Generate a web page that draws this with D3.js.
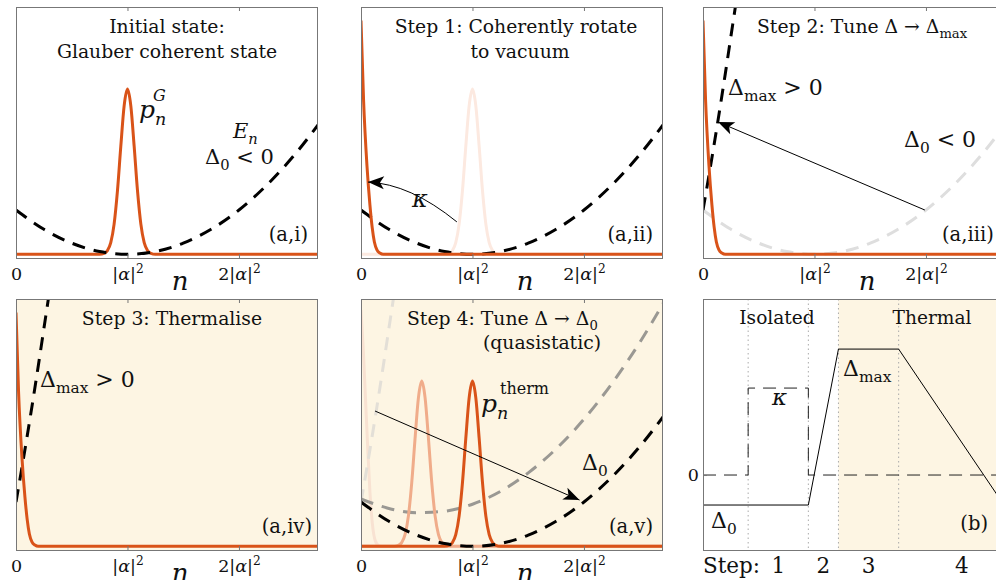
<!DOCTYPE html>
<html lang="en">
<head>
<meta charset="utf-8">
<title>Thermalisation protocol</title>
<script src="https://cdn.jsdelivr.net/npm/d3@7"></script>
<style>
  body { margin: 0; background: #fff; }
  svg { display: block; }
  text { font-family: "DejaVu Serif", serif; fill: #111; }
  .box { fill: none; stroke: #777; stroke-width: 1px; shape-rendering: crispEdges; }
  .tick line { stroke: #777; }
</style>
</head>
<body>
<script>
  // photon number axis
  var nTicks = [0, 1, 2];
  var nTickLabels = ["0", "|α|²", "2|α|²"];

  // coherent state distribution p_n^G, peaked at |alpha|^2
  var coherentN = [0, 0.75, 0.79, 0.82, 0.85, 0.88, 0.91, 0.94, 0.97, 1.00, 1.03, 1.06, 1.09, 1.12, 1.15, 1.18, 1.21, 1.25, 2.7];
  var coherentP = [0, 0, 0.004, 0.015, 0.047, 0.122, 0.256, 0.436, 0.600, 0.668, 0.600, 0.436, 0.256, 0.122, 0.047, 0.015, 0.004, 0, 0];

  // intermediate distribution during the quasistatic sweep
  var midN = [0, 0.30, 0.335, 0.365, 0.395, 0.425, 0.455, 0.485, 0.515, 0.545, 0.575, 0.605, 0.635, 0.665, 0.695, 0.725, 0.755, 0.795, 2.7];
  var midP = [0, 0, 0.004, 0.015, 0.047, 0.122, 0.256, 0.436, 0.600, 0.668, 0.600, 0.436, 0.256, 0.122, 0.047, 0.015, 0.004, 0, 0];

  // vacuum-like distribution
  var vacN = [0, 0.023, 0.054, 0.08, 0.10, 0.12, 0.143, 0.17, 0.2, 2.7];
  var vacP = [0.945, 0.624, 0.355, 0.20, 0.11, 0.05, 0.018, 0.005, 0, 0];

  // faint early thermal distribution (panel v)
  var earlyN = [0, 0.02, 0.04, 0.06, 0.08, 0.10, 0.13, 0.16, 0.2, 2.7];
  var earlyP = [0.955, 0.80, 0.60, 0.40, 0.22, 0.10, 0.02, 0.003, 0, 0];

  // energies E_n
  var energyN = [0, 0.25, 0.5, 0.75, 1.0, 1.25, 1.5, 1.75, 2.0, 2.25, 2.5, 2.75];
  var energyD0 = [0.179, 0.101, 0.045, 0.011, 0, 0.011, 0.045, 0.101, 0.179, 0.280, 0.403, 0.548];
  var energyMid = [0.192, 0.153, 0.136, 0.142, 0.170, 0.222, 0.297, 0.394, 0.514, 0.658, 0.824, 1.013];
  var steepN = [0, 0.05, 0.10, 0.15, 0.20, 0.25, 0.30, 0.35];
  var energyMax = [0.179, 0.31, 0.445, 0.585, 0.73, 0.88, 1.03, 1.19];

  // arrows (n, value)
  var kappaArrow = [[0.86, 0.131], [0.44, 0.285], [0.063, 0.292]];
  var tuneUpArrow = [[1.99, 0.179], [0.135, 0.535]];
  var tuneDownArrow = [[0.126, 0.547], [1.96, 0.187]];

  // protocol panel (b)
  var protoT = [0, 1.75, 2.25, 3.25, 5];
  var protoDelta = [-1, -1, 4.2, 4.2, -1];
  var kappaT = [0, 0.75, 0.75, 1.75, 1.75, 5];
  var kappaV = [0, 0, 2.9, 2.9, 0, 0];
  var stepBounds = [0.75, 1.75, 2.25, 3.25];
  var stepNames = ["1", "2", "3", "4"];
  var stepCentres = [1.25, 2.0, 2.75, 4.3];

  var orange = "#D95319", beige = "#FDF5E3";
  var W = 301, H = 251;

  var svg = d3.select("body").append("svg")
    .attr("width", 996).attr("height", 580);
  svg.append("rect").attr("width", 996).attr("height", 580).attr("fill", "#fff");

  var defs = svg.append("defs");
  defs.append("marker")
    .attr("id", "head")
    .attr("viewBox", "-17 -8 19 16")
    .attr("refX", 0).attr("refY", 0)
    .attr("markerWidth", 19).attr("markerHeight", 16)
    .attr("markerUnits", "userSpaceOnUse")
    .attr("orient", "auto")
    .append("path")
    .attr("d", "M0,0 L-16,-6.5 L-12,0 L-16,6.5 Z")
    .attr("fill", "#000");

  var x = d3.scaleLinear().domain([0, 2.7]).range([0, W]);
  var y = d3.scaleLinear().domain([-0.015, 1]).range([H, 0]);

  function series(ns, vs) {
    return ns.map(function(n, i) { return [n, vs[i]]; });
  }

  var line = d3.line()
    .x(function(d) { return x(d[0]); })
    .y(function(d) { return y(d[1]); })
    .curve(d3.curveMonotoneX);

  // rich text with sub/superscripts
  function rich(sel, parts, size) {
    var shift = 0;
    parts.forEach(function(p) {
      var s = p.sub ? 0.28 : p.sup ? -0.42 : 0;
      var fs = (p.sub || p.sup) ? size * 0.7 : size;
      var ts = sel.append("tspan")
        .attr("dx", p.dx || 0)
        .style("font-size", fs + "px")
        .style("font-style", p.i ? "italic" : "normal")
        .text(p.t);
      if (s - shift !== 0) ts.attr("dy", (s - shift) * size);
      shift = s;
    });
    return sel;
  }

  function label(g, px, py, parts, size, anchor) {
    var t = g.append("text")
      .attr("x", px).attr("y", py)
      .attr("text-anchor", anchor || "start")
      .style("font-size", size + "px");
    return rich(t, parts, size);
  }

  var panelId = 0;
  function panel(px, py, shaded) {
    var g = svg.append("g").attr("transform", "translate(" + px + "," + py + ")");
    var id = "clip" + (panelId++);
    defs.append("clipPath").attr("id", id)
      .append("rect").attr("width", W).attr("height", H);
    if (shaded) {
      g.append("rect").attr("width", W).attr("height", H).attr("fill", beige);
    }
    var plot = g.append("g").attr("clip-path", "url(#" + id + ")");
    return { g: g, plot: plot };
  }

  function nAxis(p) {
    var ax = p.g.append("g")
      .attr("transform", "translate(0," + H + ")")
      .call(d3.axisBottom(x).tickValues(nTicks)
        .tickSizeInner(-4).tickSizeOuter(0).tickPadding(10)
        .tickFormat(function(d, i) { return nTickLabels[i]; }));
    ax.select(".domain").remove();
    ax.selectAll(".tick text")
      .style("font-size", "17.5px")
      .attr("fill", "#111")
      .each(function(d, i) {
        var t = d3.select(this).text("");
        if (i === 0) { t.text("0"); return; }
        rich(t, [
          { t: i === 2 ? "2|" : "|" },
          { t: "α", i: true },
          { t: "|" },
          { t: "2", sup: true }
        ], 17.5);
      });
    p.g.append("g")
      .call(d3.axisTop(x).tickValues(nTicks).tickSizeInner(-4).tickSizeOuter(0).tickFormat(""))
      .select(".domain").remove();
    p.g.append("text")
      .attr("x", 164).attr("y", H + 32)
      .attr("text-anchor", "middle")
      .style("font-size", "26px").style("font-style", "italic")
      .text("n");
  }

  function box(p) {
    p.g.append("rect").attr("class", "box")
      .attr("x", 0.5).attr("y", 0.5).attr("width", W).attr("height", H);
  }

  function curve(p, data, color, width, dash) {
    var path = p.plot.append("path")
      .datum(data)
      .attr("d", line)
      .attr("fill", "none")
      .attr("stroke", color)
      .attr("stroke-width", width)
      .attr("stroke-linejoin", "round");
    if (dash) path.attr("stroke-dasharray", dash);
    return path;
  }

  function arrow(p, pts, curved) {
    var path = d3.path();
    path.moveTo(x(pts[0][0]), y(pts[0][1]));
    if (curved) {
      path.quadraticCurveTo(x(pts[1][0]), y(pts[1][1]), x(pts[2][0]), y(pts[2][1]));
    } else {
      path.lineTo(x(pts[1][0]), y(pts[1][1]));
    }
    p.plot.append("path")
      .attr("d", path.toString())
      .attr("fill", "none")
      .attr("stroke", "#000")
      .attr("stroke-width", 1)
      .attr("marker-end", "url(#head)");
  }

  var DASH = "13,9";

  // (a,i) initial state
  var p1 = panel(16, 7, false);
  curve(p1, series(coherentN, coherentP), orange, 3);
  curve(p1, series(energyN, energyD0), "#000", 3, DASH);
  nAxis(p1); box(p1);
  label(p1.g, 151, 26, [{ t: "Initial state:" }], 18.8, "middle");
  label(p1.g, 151, 51, [{ t: "Glauber coherent state" }], 18.8, "middle");
  label(p1.g, 123, 111, [{ t: "p", i: true }, { t: "n", i: true, sub: true }], 25);
  label(p1.g, 137, 94, [{ t: "G", i: true }], 16);
  label(p1.g, 217, 131, [{ t: "E", i: true }, { t: "n", i: true, sub: true }], 21);
  label(p1.g, 189, 157, [{ t: "Δ" }, { t: "0", sub: true }, { t: " < 0" }], 21);
  label(p1.g, 292, 234, [{ t: "(a,i)" }], 19.5, "end");

  // (a,ii) rotate to vacuum
  var p2 = panel(361, 7, false);
  curve(p2, series(coherentN, coherentP), "#FCE9E0", 3);
  curve(p2, series(energyN, energyD0), "#000", 3, DASH);
  curve(p2, series(vacN, vacP), orange, 3);
  arrow(p2, kappaArrow, true);
  nAxis(p2); box(p2);
  label(p2.g, 155, 26, [{ t: "Step 1: Coherently rotate" }], 18.8, "middle");
  label(p2.g, 159, 51, [{ t: "to vacuum" }], 18.8, "middle");
  label(p2.g, 51, 200, [{ t: "κ", i: true }], 24);
  label(p2.g, 292, 234, [{ t: "(a,ii)" }], 19.5, "end");

  // (a,iii) tune detuning up
  var p3 = panel(703, 7, false);
  curve(p3, series(energyN, energyD0), "#DEDEDE", 3, DASH);
  curve(p3, series(steepN, energyMax), "#000", 3, DASH);
  curve(p3, series(vacN, vacP), orange, 3);
  arrow(p3, tuneUpArrow, false);
  nAxis(p3); box(p3);
  label(p3.g, 54, 26, [{ t: "Step 2: Tune Δ → Δ" }, { t: "max", sub: true }], 18.8);
  label(p3.g, 25, 88, [{ t: "Δ" }, { t: "max", sub: true }, { t: " > 0" }], 22);
  label(p3.g, 201, 140, [{ t: "Δ" }, { t: "0", sub: true }, { t: " < 0" }], 22);
  label(p3.g, 239, 234, [{ t: "(a,iii)" }], 19.5);

  // (a,iv) thermalise
  var p4 = panel(16, 299, true);
  curve(p4, series(steepN, energyMax), "#000", 3, DASH);
  curve(p4, series(vacN, vacP), orange, 3);
  nAxis(p4); box(p4);
  label(p4.g, 156, 26, [{ t: "Step 3: Thermalise" }], 18.8, "middle");
  label(p4.g, 24, 88, [{ t: "Δ" }, { t: "max", sub: true }, { t: " > 0" }], 22);
  label(p4.g, 296, 234, [{ t: "(a,iv)" }], 19.5, "end");

  // (a,v) quasistatic sweep back
  var p5 = panel(361, 299, true);
  curve(p5, series(earlyN, earlyP), "#F8E2D2", 3);
  curve(p5, series(steepN, energyMax), "#E3DFD7", 3, DASH);
  curve(p5, series(energyN, energyMid), "#9A9893", 3, DASH);
  curve(p5, series(midN, midP), "#F0AC8A", 3);
  curve(p5, series(coherentN, coherentP), orange, 3);
  curve(p5, series(energyN, energyD0), "#000", 3, DASH);
  arrow(p5, tuneDownArrow, false);
  nAxis(p5); box(p5);
  label(p5.g, 46, 26, [{ t: "Step 4: Tune Δ → Δ" }, { t: "0", sub: true }], 18.8);
  label(p5.g, 181, 50, [{ t: "(quasistatic)" }], 18.8, "middle");
  label(p5.g, 120, 113, [{ t: "p", i: true }, { t: "n", i: true, sub: true }], 25);
  label(p5.g, 139, 95, [{ t: "therm" }], 16);
  label(p5.g, 221, 171, [{ t: "Δ" }, { t: "0", sub: true }], 22);
  label(p5.g, 292, 234, [{ t: "(a,v)" }], 19.5, "end");

  // (b) protocol
  var tx = d3.scaleLinear().domain([0, 5]).range([0, W]);
  var ty = d3.scaleLinear().domain([-2.5, 5.87]).range([H, 0]);
  var p6 = panel(703, 299, false);
  p6.plot.append("rect")
    .attr("x", tx(stepBounds[2])).attr("width", W - tx(stepBounds[2]))
    .attr("height", H).attr("fill", beige);
  p6.plot.selectAll(".bound").data(stepBounds).enter().append("line")
    .attr("x1", tx).attr("x2", tx).attr("y1", 0).attr("y2", H)
    .attr("stroke", "#AAA").attr("stroke-width", 1).attr("stroke-dasharray", "1.5,3");
  var tline = d3.line().x(function(d) { return tx(d[0]); }).y(function(d) { return ty(d[1]); });
  p6.plot.append("path").datum(series(kappaT, kappaV)).attr("d", tline)
    .attr("fill", "none").attr("stroke", "#222").attr("stroke-width", 1).attr("stroke-dasharray", "13,8");
  p6.plot.append("path").datum(series(protoT, protoDelta)).attr("d", tline)
    .attr("fill", "none").attr("stroke", "#000").attr("stroke-width", 1);
  var yax = p6.g.append("g")
    .call(d3.axisLeft(ty).tickValues([0]).tickSizeInner(-4).tickSizeOuter(0).tickPadding(4));
  yax.select(".domain").remove();
  yax.selectAll(".tick text").style("font-size", "17.5px").attr("fill", "#111");
  box(p6);
  label(p6.g, 74, 25, [{ t: "Isolated" }], 18.6, "middle");
  label(p6.g, 229, 25, [{ t: "Thermal" }], 18.6, "middle");
  label(p6.g, 140, 77, [{ t: "Δ" }, { t: "max", sub: true }], 22);
  label(p6.g, 69, 106, [{ t: "κ", i: true }], 23);
  label(p6.g, 8, 229, [{ t: "Δ" }, { t: "0", sub: true }], 22);
  label(p6.g, 285, 231, [{ t: "(b)" }], 19.5, "end");
  label(p6.g, 0, 274, [{ t: "Step:" }], 21.5);
  p6.g.selectAll(".stepname").data(stepNames).enter().append("text")
    .attr("x", function(d, i) { return tx(stepCentres[i]); })
    .attr("y", 274)
    .attr("text-anchor", "middle")
    .style("font-size", "21.5px")
    .text(function(d) { return d; });
</script>
</body>
</html>
